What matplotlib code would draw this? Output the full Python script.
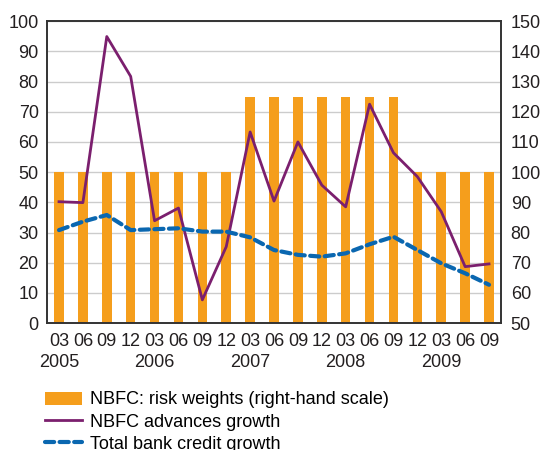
import numpy as np
import matplotlib
matplotlib.use("Agg")
from matplotlib import pyplot as plt
from matplotlib.ticker import MultipleLocator

plt.rcParams['font.family'] = ['Liberation Sans', 'DejaVu Sans']

# Quarterly data, 2005 Q1 to 2009 Q3
quarters = ["03", "06", "09", "12"] * 4 + ["03", "06", "09"]
years = ["2005", "2006", "2007", "2008", "2009"]
risk_weights = [100, 100, 100, 100, 100, 100, 100, 100,
                125, 125, 125, 125, 125, 125, 125,
                100, 100, 100, 100]
nbfc_growth = [40.2, 39.9, 94.9, 81.7, 33.9, 38.1, 7.7, 25.3,
               63.3, 40.4, 60.0, 45.7, 38.5, 72.5, 56.4,
               48.5, 36.9, 18.7, 19.6]
bank_credit_growth = [30.8, 33.6, 35.8, 30.8, 31.1, 31.4, 30.3, 30.3,
                      28.4, 24.2, 22.6, 22.0, 23.1, 26.1, 28.6,
                      24.2, 19.8, 16.5, 12.7]

x = np.arange(len(quarters))
orange = "#f59e1c"
purple = "#7b1f6e"
blue = "#0a67b0"
gridc = "#cccccc"
txtc = "#231f20"

fig = plt.figure(figsize=(5.41, 4.5), dpi=100)
ax = fig.add_axes([0.087, 0.282, 0.839, 0.671])
ax2 = ax.twinx()
ax.set_zorder(ax2.get_zorder() + 1)
ax.patch.set_visible(False)

# bars on right-hand scale
ax2.bar(x, risk_weights, width=0.4, color=orange, zorder=2,
        label="NBFC: risk weights (right-hand scale)")
ax2.set_ylim(50, 150)
ax2.yaxis.set_major_locator(MultipleLocator(10))
ax2.xaxis.set_minor_locator(MultipleLocator(1, offset=0.5))
ax2.grid(True, axis="y", color=gridc, lw=1, zorder=0)
ax2.grid(True, axis="x", which="minor", color=gridc, lw=1, zorder=0)
ax2.set_axisbelow(True)

# lines on left-hand scale
ax.plot(x, nbfc_growth, color=purple, lw=2, label="NBFC advances growth")
ax.plot(x, bank_credit_growth, color=blue, lw=3, ls=(0, (2.2, 1.3)),
        dash_capstyle="round", solid_joinstyle="round",
        label="Total bank credit growth")
ax.set_ylim(0, 100)
ax.set_xlim(-0.5, len(x) - 0.5)
ax.yaxis.set_major_locator(MultipleLocator(10))
ax.set_xticks(x)
ax.set_xticklabels(quarters)

# year labels under each March tick
for i, yr in enumerate(years):
    ax.annotate(yr, xy=(i * 4, 0), xycoords=("data", "axes fraction"),
                xytext=(0, -28.5), textcoords="offset points",
                ha="center", va="center", fontsize=13, color=txtc)

for a in (ax, ax2):
    a.tick_params(length=0, labelsize=13, colors=txtc)
    a.tick_params(axis="x", which="minor", length=0)
    for s in a.spines.values():
        s.set_color("#333333")
        s.set_linewidth(1.2)
ax.tick_params(axis="y", pad=6)
ax2.tick_params(axis="y", pad=7)
ax.tick_params(axis="x", pad=7)

h2, l2 = ax2.get_legend_handles_labels()
h1, l1 = ax.get_legend_handles_labels()
fig.legend(h2 + h1, l2 + l1, loc="upper left", bbox_to_anchor=(0.083, 0.13),
           frameon=False, fontsize=13, handlelength=2.05, handletextpad=0.45,
           labelspacing=0.28, borderaxespad=0, borderpad=0)

fig.savefig("out.png", dpi=100)
